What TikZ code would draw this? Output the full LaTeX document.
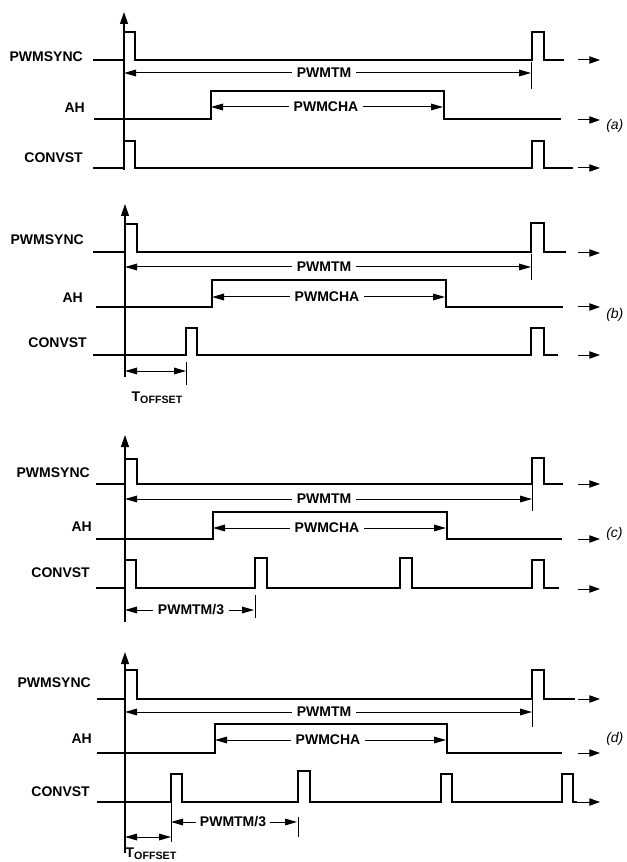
\documentclass[tikz,border=0pt]{standalone}
\usepackage{fontspec}
\setmainfont{Liberation Sans}
\usetikzlibrary{arrows.meta}
\begin{document}
\begin{tikzpicture}[x=0.75pt,y=-0.75pt,
 sig/.style={line width=1.5pt, line join=miter},
 thinline/.style={line width=0.75pt},
 dimarrow/.style={thinline,-{Triangle[length=9pt,width=5pt]}},
 outarrow/.style={thinline,-{Triangle[length=8pt,width=5.5pt]}},
 axisarrow/.style={line width=0.9pt,-{Triangle[length=9pt,width=6pt]}},
 lbl/.style={font=\bfseries\fontsize{10.5}{12}\selectfont, anchor=east, inner sep=0pt},
 dimlbl/.style={font=\bfseries\fontsize{10.5}{12}\selectfont, inner sep=3.5pt},
 offlbl/.style={font=\bfseries\fontsize{10.5}{12}\selectfont, inner sep=0pt},
 tag/.style={font=\itshape\fontsize{10.5}{12}\selectfont, anchor=west, inner sep=0pt}]
\useasboundingbox (0,0) rectangle (626,862);
\newcommand{\toff}{T\raisebox{-1.5pt}{\fontsize{8}{9}\selectfont OFFSET}}

% ================= (a) =================
\node[lbl] (a-sync) at (83,57) {PWMSYNC};
\node[lbl] (a-ah) at (85,108) {AH};
\node[lbl] (a-conv) at (83,158) {CONVST};
\draw[axisarrow] (124,170) -- (124,12);
\draw[sig] (93,60) -- (124,60) -- (124,32) -- (135,32) -- (135,60) -- (532,60) -- (532,32) -- (544,32) -- (544,60) -- (564,60);
\draw[sig] (94,119) -- (211,119) -- (211,91) -- (444,91) -- (444,119) -- (561,119);
\draw[sig] (93,168) -- (124,168) -- (124,141) -- (135,141) -- (135,168) -- (532,168) -- (532,141) -- (544,141) -- (544,168) -- (573,168);
\draw[outarrow] (578,60) -- (600,60);
\draw[outarrow] (578,120) -- (600,120);
\draw[outarrow] (578,168) -- (600,168);
\node[tag] (a-tag) at (606,126) {(a)};
\coordinate (a-tmL) at (124,73); \coordinate (a-tmR) at (531,73);
\node[dimlbl] (a-tm) at (324,73) {PWMTM};
\draw[dimarrow] (a-tm.west) -- (a-tmL);
\draw[dimarrow] (a-tm.east) -- (a-tmR);
\draw[thinline] (531,62) -- (531,89);
\coordinate (a-chL) at (211,107); \coordinate (a-chR) at (443,107);
\node[dimlbl] (a-ch) at (326,107) {PWMCHA};
\draw[dimarrow] (a-ch.west) -- (a-chL);
\draw[dimarrow] (a-ch.east) -- (a-chR);

% ================= (b) =================
\node[lbl] (b-sync) at (84,240) {PWMSYNC};
\node[lbl] (b-ah) at (83,298) {AH};
\node[lbl] (b-conv) at (87,343) {CONVST};
\draw[axisarrow] (125,377) -- (125,204);
\draw[sig] (93,252) -- (125,252) -- (125,224) -- (137,224) -- (137,252) -- (531,252) -- (531,223) -- (544,223) -- (544,252) -- (566,252);
\draw[sig] (96,307) -- (212,307) -- (212,280) -- (446,280) -- (446,307) -- (563,307);
\draw[sig] (93,355) -- (186,355) -- (186,328) -- (197,328) -- (197,355) -- (531,355) -- (531,328) -- (544,328) -- (544,355) -- (558,355);
\draw[outarrow] (578,253) -- (600,253);
\draw[outarrow] (578,307) -- (600,307);
\draw[outarrow] (578,355) -- (600,355);
\node[tag] (b-tag) at (606,315) {(b)};
\coordinate (b-tmL) at (125,267); \coordinate (b-tmR) at (531,267);
\node[dimlbl] (b-tm) at (324,267) {PWMTM};
\draw[dimarrow] (b-tm.west) -- (b-tmL);
\draw[dimarrow] (b-tm.east) -- (b-tmR);
\draw[thinline] (531,254) -- (531,280);
\coordinate (b-chL) at (212,297); \coordinate (b-chR) at (445,297);
\node[dimlbl] (b-ch) at (327,297) {PWMCHA};
\draw[dimarrow] (b-ch.west) -- (b-chL);
\draw[dimarrow] (b-ch.east) -- (b-chR);
\coordinate (b-offL) at (125,371); \coordinate (b-offR) at (186,371);
\draw[dimarrow,{Triangle[length=9pt,width=5pt]}-{Triangle[length=9pt,width=5pt]}] (b-offL) -- (b-offR);
\draw[thinline] (186,362) -- (186,385);
\node[offlbl] (b-off) at (157,398) {\toff};

% ================= (c) =================
\node[lbl] (c-sync) at (90,473) {PWMSYNC};
\node[lbl] (c-ah) at (92,527) {AH};
\node[lbl] (c-conv) at (90,573) {CONVST};
\draw[axisarrow] (125,622) -- (125,435);
\draw[sig] (96,484) -- (125,484) -- (125,459) -- (137,459) -- (137,484) -- (532,484) -- (532,458) -- (544,458) -- (544,484) -- (563,484);
\draw[sig] (96,539) -- (213,539) -- (213,512) -- (447,512) -- (447,539) -- (562,539);
\draw[sig] (96,588) -- (125,588) -- (125,560) -- (136,560) -- (136,588) -- (255,588) -- (255,558) -- (267,558) -- (267,588) -- (400,588) -- (400,558) -- (412,558) -- (412,588) -- (532,588) -- (532,560) -- (544,560) -- (544,588) -- (559,588);
\draw[outarrow] (578,484) -- (600,484);
\draw[outarrow] (578,539) -- (600,539);
\draw[outarrow] (578,589) -- (600,589);
\node[tag] (c-tag) at (606,534) {(c)};
\coordinate (c-tmL) at (125,499); \coordinate (c-tmR) at (532,499);
\node[dimlbl] (c-tm) at (324,499) {PWMTM};
\draw[dimarrow] (c-tm.west) -- (c-tmL);
\draw[dimarrow] (c-tm.east) -- (c-tmR);
\draw[thinline] (532,485) -- (532,511);
\coordinate (c-chL) at (213,528); \coordinate (c-chR) at (446,528);
\node[dimlbl] (c-ch) at (327,528) {PWMCHA};
\draw[dimarrow] (c-ch.west) -- (c-chL);
\draw[dimarrow] (c-ch.east) -- (c-chR);
\coordinate (c-t3L) at (125,610); \coordinate (c-t3R) at (254,610);
\node[dimlbl] (c-t3) at (191,610) {PWMTM/3};
\draw[dimarrow] (c-t3.west) -- (c-t3L);
\draw[dimarrow] (c-t3.east) -- (c-t3R);
\draw[thinline] (255,595) -- (255,618);

% ================= (d) =================
\node[lbl] (d-sync) at (91,683) {PWMSYNC};
\node[lbl] (d-ah) at (92,739) {AH};
\node[lbl] (d-conv) at (90,792) {CONVST};
\draw[axisarrow] (125,853) -- (125,652);
\draw[sig] (97,699) -- (125,699) -- (125,670) -- (137,670) -- (137,699) -- (532,699) -- (532,670) -- (544,670) -- (544,699) -- (575,699);
\draw[sig] (97,753) -- (215,753) -- (215,724) -- (447,724) -- (447,753) -- (562,753);
\draw[sig] (97,802) -- (171,802) -- (171,774) -- (182,774) -- (182,802) -- (298,802) -- (298,771) -- (310,771) -- (310,802) -- (441,802) -- (441,774) -- (452,774) -- (452,802) -- (562,802) -- (562,774) -- (573,774) -- (573,802) -- (577,802);
\draw[outarrow] (578,699) -- (600,699);
\draw[outarrow] (578,753) -- (600,753);
\draw[outarrow] (576,802) -- (600,802);
\node[tag] (d-tag) at (606,739) {(d)};
\coordinate (d-tmL) at (125,712); \coordinate (d-tmR) at (532,712);
\node[dimlbl] (d-tm) at (324,712) {PWMTM};
\draw[dimarrow] (d-tm.west) -- (d-tmL);
\draw[dimarrow] (d-tm.east) -- (d-tmR);
\draw[thinline] (532,700) -- (532,727);
\coordinate (d-chL) at (215,740); \coordinate (d-chR) at (446,740);
\node[dimlbl] (d-ch) at (328,740) {PWMCHA};
\draw[dimarrow] (d-ch.west) -- (d-chL);
\draw[dimarrow] (d-ch.east) -- (d-chR);
\coordinate (d-offL) at (125,837); \coordinate (d-offR) at (171,837);
\draw[dimarrow,{Triangle[length=9pt,width=5pt]}-{Triangle[length=9pt,width=5pt]}] (d-offL) -- (d-offR);
\draw[thinline] (171,803) -- (171,842);
\node[offlbl] (d-off) at (151,854) {\toff};
\coordinate (d-t3L) at (171,822); \coordinate (d-t3R) at (297,822);
\node[dimlbl, inner sep=2.5pt] (d-t3) at (233,822) {PWMTM/3};
\draw[dimarrow] (d-t3.west) -- (d-t3L);
\draw[dimarrow] (d-t3.east) -- (d-t3R);
\draw[thinline] (298,817) -- (298,837);
\end{tikzpicture}
\end{document}
